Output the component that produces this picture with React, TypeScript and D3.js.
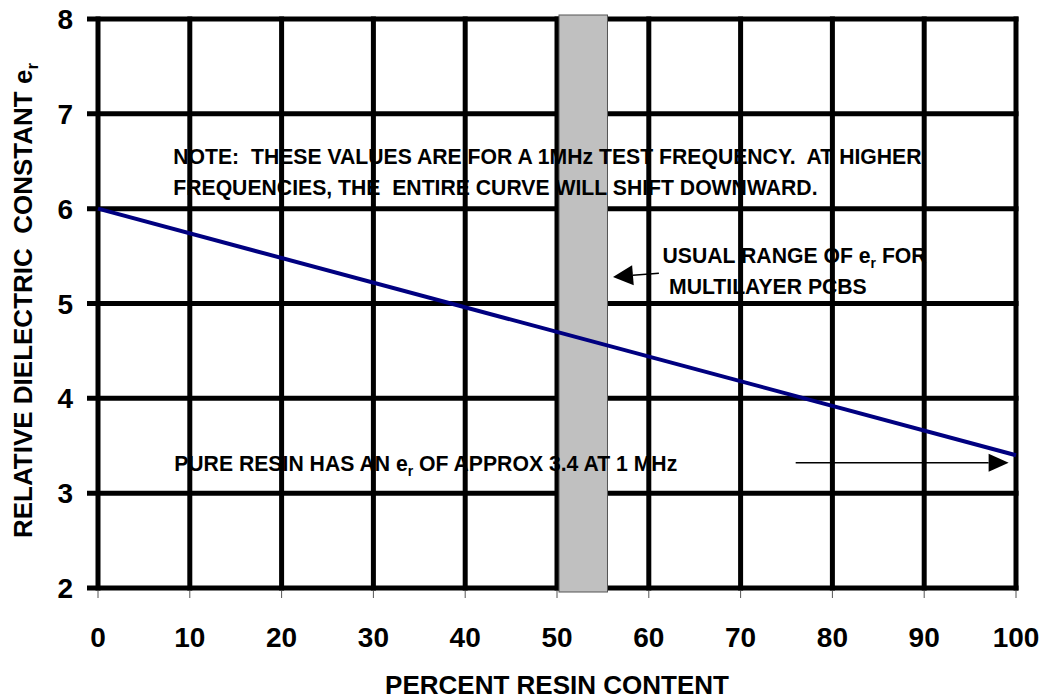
import React, { useEffect, useRef } from 'react';
import * as d3 from 'd3';

// chart values
const xTicks = [0, 10, 20, 30, 40, 50, 60, 70, 80, 90, 100];
const yTicks = [2, 3, 4, 5, 6, 7, 8];
const resinPct = [0, 100];
const dielectric = [6.0, 3.4];
const usualRange = [50, 55.5];

const FONT = '"Liberation Sans", Arial, Helvetica, sans-serif';

const App: React.FC = () => {
  const svgRef = useRef<SVGSVGElement>(null);

  useEffect(() => {
    if (!svgRef.current) return;
    const root = d3.select(svgRef.current);
    root.selectAll('*').remove();

    const W = 1044;
    const H = 700;
    const margin = { top: 19, right: 28, bottom: 112, left: 98 };
    const width = W - margin.left - margin.right;
    const height = H - margin.top - margin.bottom;

    const svg = root
      .attr('width', W)
      .attr('height', H)
      .append('g')
      .attr('transform', `translate(${margin.left},${margin.top})`)
      .style('font-family', FONT)
      .style('font-weight', 'bold');

    const x = d3.scaleLinear().domain([0, 100]).range([0, width]);
    const y = d3.scaleLinear().domain([2, 8]).range([height, 0]);

    // grid
    const grid = svg.append('g').attr('stroke', '#000').attr('stroke-width', 5);
    grid.selectAll('.hl')
      .data(yTicks)
      .join('line')
      .attr('x1', -11).attr('x2', width + 2.5)
      .attr('y1', d => y(d)).attr('y2', d => y(d));
    grid.selectAll('.vl')
      .data(xTicks)
      .join('line')
      .attr('x1', d => x(d)).attr('x2', d => x(d))
      .attr('y1', -2.5).attr('y2', height + 2.5);

    // small x ticks below axis
    svg.append('g').selectAll('line')
      .data(xTicks)
      .join('line')
      .attr('x1', d => x(d)).attr('x2', d => x(d))
      .attr('y1', height + 3).attr('y2', height + 10)
      .attr('stroke', '#555').attr('stroke-width', 1);

    // usual range band
    svg.append('rect')
      .attr('x', x(usualRange[0]) + 2)
      .attr('y', y(8) - 4)
      .attr('width', x(usualRange[1]) - x(usualRange[0]) - 2)
      .attr('height', y(2) - y(8) + 8)
      .attr('fill', '#c0c0c0')
      .attr('stroke', '#555')
      .attr('stroke-width', 1);

    // dielectric constant line
    const line = d3.line<number>()
      .x((_, i) => x(resinPct[i]))
      .y(d => y(d));
    svg.append('path')
      .datum(dielectric)
      .attr('fill', 'none')
      .attr('stroke', '#000080')
      .attr('stroke-width', 4)
      .attr('d', line);

    // annotations
    const note = svg.append('g').style('font-size', '21.2px').attr('fill', '#000');
    note.append('text')
      .attr('x', x(8.2)).attr('y', y(6.47))
      .attr('xml:space', 'preserve')
      .text('NOTE:  THESE VALUES ARE FOR A 1MHz TEST FREQUENCY.  AT HIGHER');
    note.append('text')
      .attr('x', x(8.2)).attr('y', y(6.14))
      .attr('xml:space', 'preserve')
      .text('FREQUENCIES, THE  ENTIRE CURVE WILL SHIFT DOWNWARD.');

    const usual1 = note.append('text').attr('x', x(61.5)).attr('y', y(5.43));
    usual1.append('tspan').text('USUAL RANGE OF e');
    usual1.append('tspan').attr('dy', 5).style('font-size', '14px').text('r');
    usual1.append('tspan').attr('dy', -5).text(' FOR');
    note.append('text').attr('x', x(62.2)).attr('y', y(5.1)).text('MULTILAYER PCBS');

    const pure = note.append('text').attr('x', x(8.3)).attr('y', y(3.23));
    pure.append('tspan').text('PURE RESIN HAS AN e');
    pure.append('tspan').attr('dy', 5).style('font-size', '14px').text('r');
    pure.append('tspan').attr('dy', -5).text(' OF APPROX 3.4 AT 1 MHz');

    // arrows
    const arrow = (x0: number, y0: number, x1: number, y1: number, len: number, half: number) => {
      const sx = x(x0), sy = y(y0), ex = x(x1), ey = y(y1);
      const a = Math.atan2(ey - sy, ex - sx);
      const bx = ex - len * Math.cos(a), by = ey - len * Math.sin(a);
      svg.append('line')
        .attr('x1', sx).attr('y1', sy).attr('x2', bx).attr('y2', by)
        .attr('stroke', '#000').attr('stroke-width', 1.5);
      const px = -Math.sin(a) * half, py = Math.cos(a) * half;
      svg.append('path')
        .attr('d', `M${ex},${ey}L${bx + px},${by + py}L${bx - px},${by - py}Z`)
        .attr('fill', '#000');
    };
    arrow(61.1, 5.32, 56.1, 5.28, 20, 10);
    arrow(76.0, 3.32, 99.2, 3.32, 20, 9);

    // tick labels
    svg.append('g').selectAll('text')
      .data(yTicks)
      .join('text')
      .attr('x', -25).attr('y', d => y(d))
      .attr('dy', '0.36em')
      .attr('text-anchor', 'end')
      .style('font-size', '28px')
      .text(d => d);
    svg.append('g').selectAll('text')
      .data(xTicks)
      .join('text')
      .attr('x', d => x(d)).attr('y', height + 59)
      .attr('text-anchor', 'middle')
      .style('font-size', '28px')
      .text(d => d);

    // axis titles
    svg.append('text')
      .attr('x', width / 2).attr('y', height + 106)
      .attr('text-anchor', 'middle')
      .style('font-size', '26px')
      .text('PERCENT RESIN CONTENT');

    const yt = svg.append('text')
      .attr('transform', `translate(${-66},${height / 2 - 3}) rotate(-90)`)
      .attr('text-anchor', 'middle')
      .attr('xml:space', 'preserve')
      .style('font-size', '26px');
    yt.append('tspan').text('RELATIVE DIELECTRIC  CONSTANT e');
    yt.append('tspan').attr('dy', 6).style('font-size', '17px').text('r');
  }, []);

  return (
    <svg
      ref={svgRef}
      style={{ position: 'absolute', left: 0, top: 0, background: '#fff' }}
    />
  );
};

export default App;
